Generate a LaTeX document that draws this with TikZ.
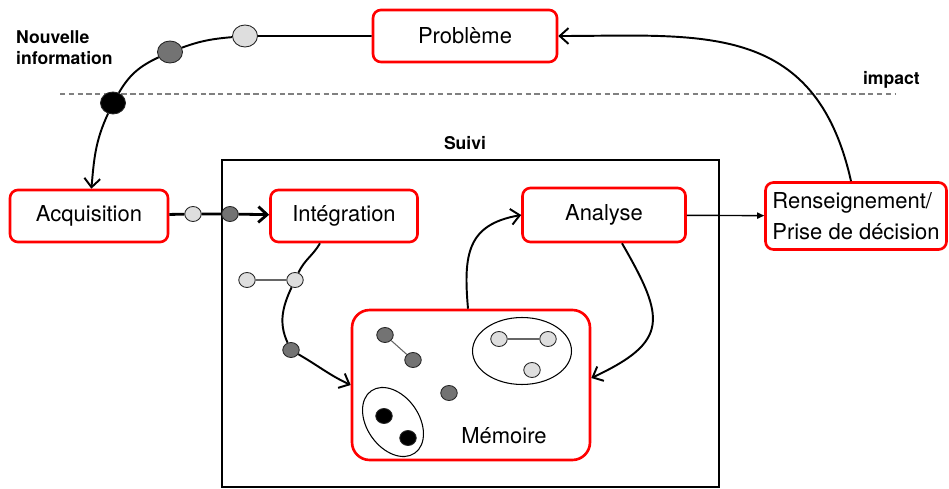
\documentclass[tikz,border=0pt]{standalone}
\usepackage{fontspec}
\setmainfont{TeX Gyre Heros}
\usetikzlibrary{arrows.meta, shapes.geometric, calc}

\begin{document}
\begin{tikzpicture}[x=0.02cm, y=0.02cm,
  box/.style={draw=red, line width=1.5pt, rounded corners=4.5pt, fill=white, font=\fontsize{12.5}{17.5}\selectfont, inner sep=2pt},
  dot/.style={ellipse, draw=black!85, line width=0.5pt, minimum width=0.33cm, minimum height=0.3cm, inner sep=0pt},
  bigdot/.style={dot, minimum width=0.5cm, minimum height=0.44cm},
  lite/.style={fill=black!13},
  dark/.style={fill=black!55},
  group/.style={ellipse, draw, line width=0.6pt, inner sep=0pt},
  lbl/.style={font=\fontsize{10}{12}\selectfont\bfseries},
  arr/.style={-{Straight Barb[length=5pt,width=9pt]}, line width=1.1pt},
  tip/.style={-{Triangle[length=4pt,width=3.5pt]}, line width=0.8pt},
  link/.style={black!60, line width=0.6pt}
]
\useasboundingbox (0,0) rectangle (949,-489);

% Suivi frame and impact line
\draw[line width=1.3pt] (222,-160) rectangle (719,-487);
\draw[black!50, dash pattern=on 3pt off 2pt, line width=0.8pt] (60,-94) -- (895,-94);

% Labels
\node[lbl, align=left, anchor=north west] (newinfo) at (10,-24) {Nouvelle\\information};
\node[lbl] (suivi) at (465,-143) {Suivi};
\node[lbl, anchor=east] (impact) at (926,-80) {impact};

% Boxes
\node[box, minimum width=3.68cm, minimum height=1.04cm] (prob) at (465,-36) {Problème};
\node[box, minimum width=3.16cm, minimum height=1.04cm] (acq) at (89,-216) {Acquisition};
\node[box, minimum width=2.94cm, minimum height=1.04cm] (integ) at (344,-216) {Intégration};
\node[box, minimum width=3.26cm, minimum height=1.08cm] (ana) at (604,-215) {Analyse};
\node[box, minimum width=3.62cm, minimum height=1.34cm, align=left] (rens) at (856,-216) {Renseignement/\\Prise de décision};
\node[box, rounded corners=10pt, minimum width=4.76cm, minimum height=3cm] (mem) at (471,-385) {};
\node[font=\fontsize{12.5}{15}\selectfont] (memtxt) at (504,-436) {Mémoire};

% Dots on the paths
\node[bigdot, lite] (top1) at (245,-36) {};
\node[bigdot, dark] (top2) at (170,-52) {};
\node[bigdot, fill=black] (top3) at (113,-103) {};
\node[dot, lite] (acq1) at (193,-214) {};
\node[dot, dark] (acq2) at (230,-214) {};
\node[dot, lite] (int1) at (247,-280) {};
\node[dot, lite] (int2) at (295,-280) {};
\node[dot, dark] (int3) at (291,-350) {};

% Memory contents
\node[group, minimum width=1.98cm, minimum height=1.34cm] (grpA) at (522,-351) {};
\node[group, minimum width=1.52cm, minimum height=1.04cm, rotate=-55] (grpB) at (393,-422) {};
\node[dot, dark] (mem1) at (385,-335) {};
\node[dot, dark] (mem2) at (413,-360) {};
\node[dot, dark] (mem3) at (449,-393) {};
\node[dot, lite] (mem4) at (499,-339) {};
\node[dot, lite] (mem5) at (548,-339) {};
\node[dot, lite] (mem6) at (532,-370) {};
\node[dot, fill=black] (mem7) at (384,-416) {};
\node[dot, fill=black] (mem8) at (408,-438) {};

% Links
\draw[link] (int1) -- (int2);
\draw[link] (mem1) -- (mem2);
\draw[link] (mem4) -- (mem5);

% Arrows
\draw[arr] (prob) to[out=180,in=0] (top1) to[out=185,in=20] (top2) to[out=205,in=60] (top3) to[out=245,in=85] (acq);
\draw[arr, line width=1.6pt] (acq) -- (acq1) -- (acq2) -- (integ);
\draw[arr] ([xshift=-0.48cm]integ.south) to[out=240,in=65] (int2) to[out=245,in=115] (int3) to[out=-30,in=155] (mem.west);
\draw[arr] ([xshift=-0.06cm]mem.north) to[out=95,in=190,looseness=1.3] (ana.west);
\draw[arr] ([xshift=0.36cm]ana.south) to[out=-60,in=25,looseness=1.6] ([yshift=0.14cm]mem.east);
\draw[tip] (ana) -- (rens);
\draw[arr] ([xshift=-0.1cm]rens.north) .. controls (815,-20) and (700,-36) .. (prob.east);

\end{tikzpicture}
\end{document}
